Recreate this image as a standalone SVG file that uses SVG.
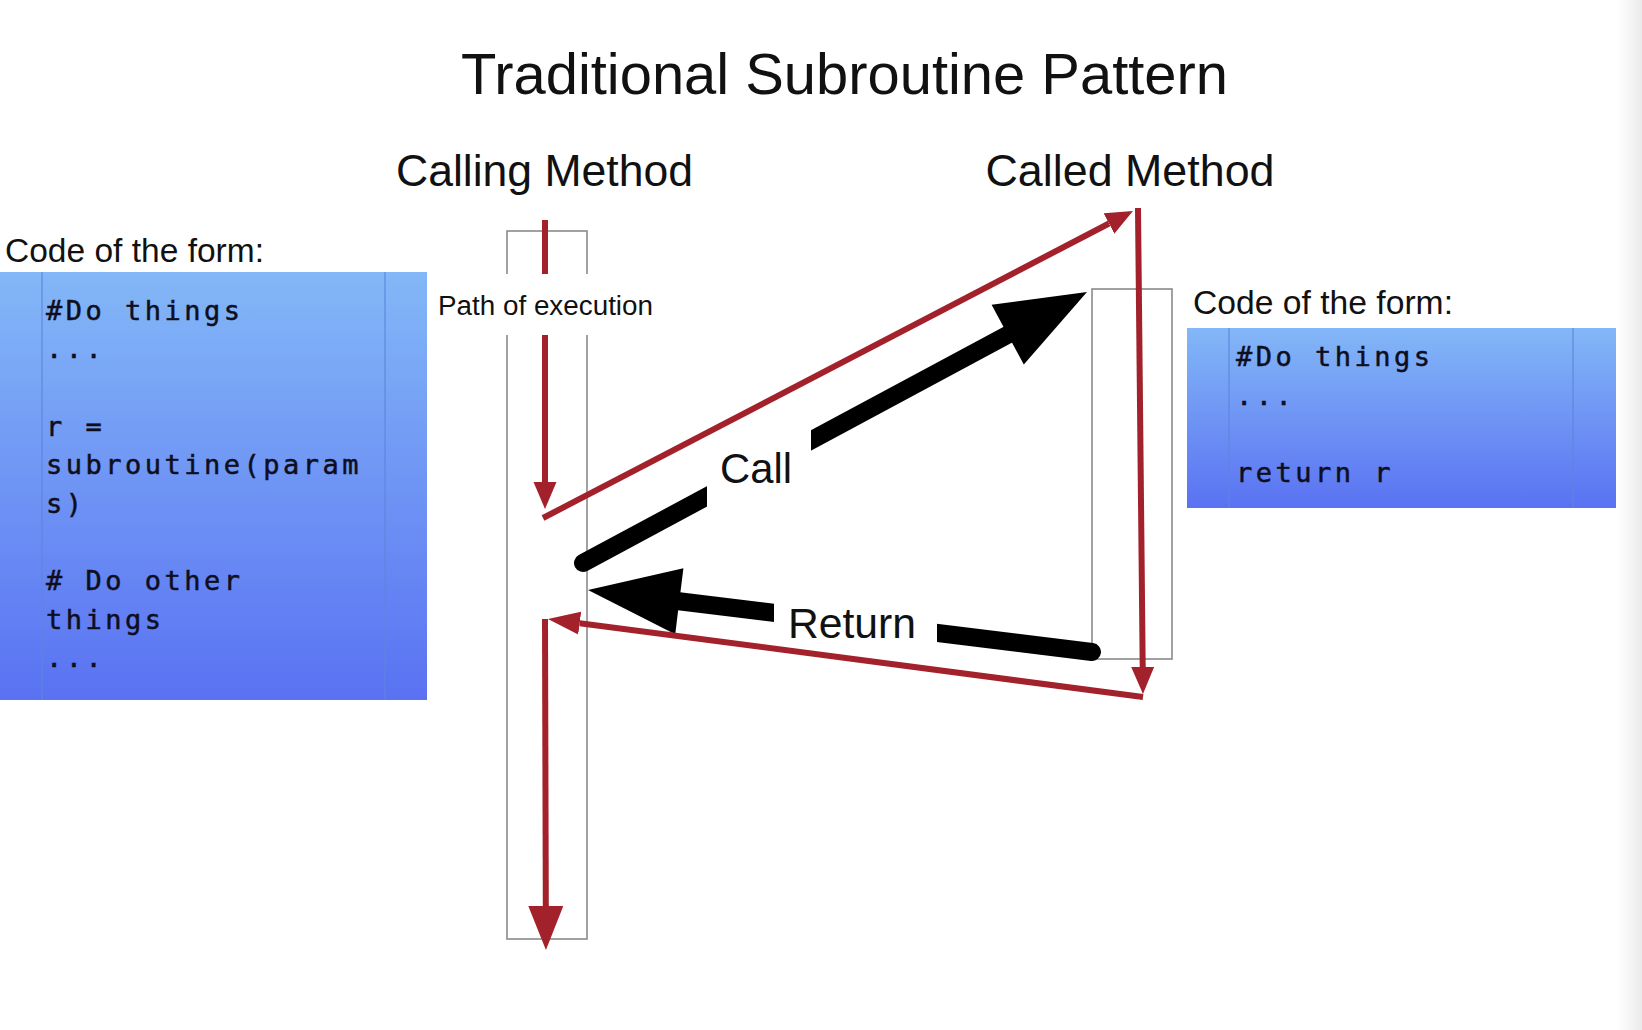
<svg xmlns="http://www.w3.org/2000/svg" width="1642" height="1030" viewBox="0 0 1642 1030">
<style>
.sans{font-family:"Liberation Sans",Arial,sans-serif;fill:#111}
.mono{font-family:"DejaVu Sans Mono","Liberation Mono",monospace;font-size:27px;letter-spacing:3.5px;fill:#0e0e1c;stroke:#0e0e1c;stroke-width:0.5}
.col{fill:none;stroke:#8a8a8a;stroke-width:1.6}
.inner{stroke:#5f86dc;stroke-width:1.4;opacity:0.8}
.red{fill:none;stroke:#a3212b;stroke-width:6}
.blk{fill:none;stroke:#000;stroke-width:18}
</style>
<defs>
<linearGradient id="codeGrad" x1="0" y1="0" x2="0" y2="1">
<stop offset="0" stop-color="#83b7f7"/>
<stop offset="1" stop-color="#5a72f2"/>
</linearGradient>
<linearGradient id="shade" x1="0" y1="0" x2="1" y2="0">
<stop offset="0" stop-color="#ffffff"/>
<stop offset="1" stop-color="#ebebeb"/>
</linearGradient>
<marker id="redHead" markerUnits="userSpaceOnUse" markerWidth="30" markerHeight="26" refX="0" refY="11.5" orient="auto">
<path d="M0,0 L27,11.5 L0,23 Z" fill="#a3212b"/>
</marker>
<marker id="redHeadL" markerUnits="userSpaceOnUse" markerWidth="34" markerHeight="26" refX="0" refY="11.5" orient="auto">
<path d="M0,0 L32,11.5 L0,23 Z" fill="#a3212b"/>
</marker>
<marker id="redHeadXL" markerUnits="userSpaceOnUse" markerWidth="46" markerHeight="36" refX="0" refY="17.5" orient="auto">
<path d="M0,0 L44,17.5 L0,35 Z" fill="#a3212b"/>
</marker>
</defs>
<rect x="0" y="0" width="1642" height="1030" fill="#ffffff"/>
<rect x="1617" y="0" width="25" height="1030" fill="url(#shade)"/>

<g id="title">
<text class="sans" x="844.5" y="94" font-size="57" text-anchor="middle" textLength="767" lengthAdjust="spacingAndGlyphs">Traditional Subroutine Pattern</text>
</g>

<g id="calling-code">
<text class="sans" x="5" y="262" font-size="33" textLength="259" lengthAdjust="spacingAndGlyphs">Code of the form:</text>
<rect x="0" y="272" width="427" height="428" fill="url(#codeGrad)"/>
<line class="inner" x1="42" y1="272" x2="42" y2="700"/>
<line class="inner" x1="385" y1="272" x2="385" y2="700"/>
<text class="mono" x="46" y="320">#Do things</text>
<text class="mono" x="46" y="358">...</text>
<text class="mono" x="46" y="436">r =</text>
<text class="mono" x="46" y="474">subroutine(param</text>
<text class="mono" x="46" y="513">s)</text>
<text class="mono" x="46" y="590">#&#160;Do other</text>
<text class="mono" x="46" y="629">things</text>
<text class="mono" x="46" y="667">...</text>
</g>

<g id="called-code">
<text class="sans" x="1193" y="314" font-size="33" textLength="260" lengthAdjust="spacingAndGlyphs">Code of the form:</text>
<rect x="1187" y="328" width="429" height="180" fill="url(#codeGrad)"/>
<line class="inner" x1="1229" y1="328" x2="1229" y2="508"/>
<line class="inner" x1="1573" y1="328" x2="1573" y2="508"/>
<text class="mono" x="1236" y="366">#Do things</text>
<text class="mono" x="1236" y="405">...</text>
<text class="mono" x="1236" y="482">return r</text>
</g>

<g id="calling-method">
<text class="sans" x="544.5" y="186" font-size="44.5" text-anchor="middle" textLength="297" lengthAdjust="spacingAndGlyphs">Calling Method</text>
<rect class="col" x="507" y="231" width="80" height="708"/>
</g>

<g id="called-method">
<text class="sans" x="1130" y="186" font-size="44.5" text-anchor="middle" textLength="289" lengthAdjust="spacingAndGlyphs">Called Method</text>
<rect class="col" x="1092" y="289" width="80" height="370"/>
</g>

<g id="connectors">
<g id="call-arrow">
<line class="blk" x1="583" y1="563" x2="1008" y2="334.6" stroke-linecap="round"/>
<polygon points="1087,292 991.6,304.7 1023.8,364.5" fill="#000"/>
<rect x="707" y="418" width="104" height="98" fill="#ffffff"/>
<text class="sans" x="720" y="483" font-size="42" textLength="72" lengthAdjust="spacingAndGlyphs">Call</text>
</g>
<g id="return-arrow">
<line class="blk" x1="1092" y1="652" x2="679" y2="601.2" stroke-linecap="round"/>
<polygon points="588,590 683.4,568.2 675.2,634.3" fill="#000"/>
<rect x="774" y="596" width="163" height="50" fill="#ffffff"/>
<text class="sans" x="788" y="638" font-size="42" textLength="128" lengthAdjust="spacingAndGlyphs">Return</text>
</g>
<g id="execution-path">
<line class="red" x1="545" y1="220" x2="545" y2="482" marker-end="url(#redHead)"/>
<line class="red" x1="543" y1="518" x2="1109" y2="223.5" marker-end="url(#redHead)"/>
<line class="red" x1="1138" y1="208" x2="1142.7" y2="667" marker-end="url(#redHead)"/>
<line class="red" x1="1143" y1="697" x2="579.7" y2="623.2" marker-end="url(#redHeadL)"/>
<line class="red" x1="545" y1="619" x2="545.8" y2="906" marker-end="url(#redHeadXL)"/>
</g>
</g>

<g id="path-label">
<rect x="436" y="274" width="220" height="61" fill="#ffffff"/>
<text class="sans" x="438" y="315" font-size="27" textLength="215" lengthAdjust="spacingAndGlyphs">Path of execution</text>
</g>
</svg>
